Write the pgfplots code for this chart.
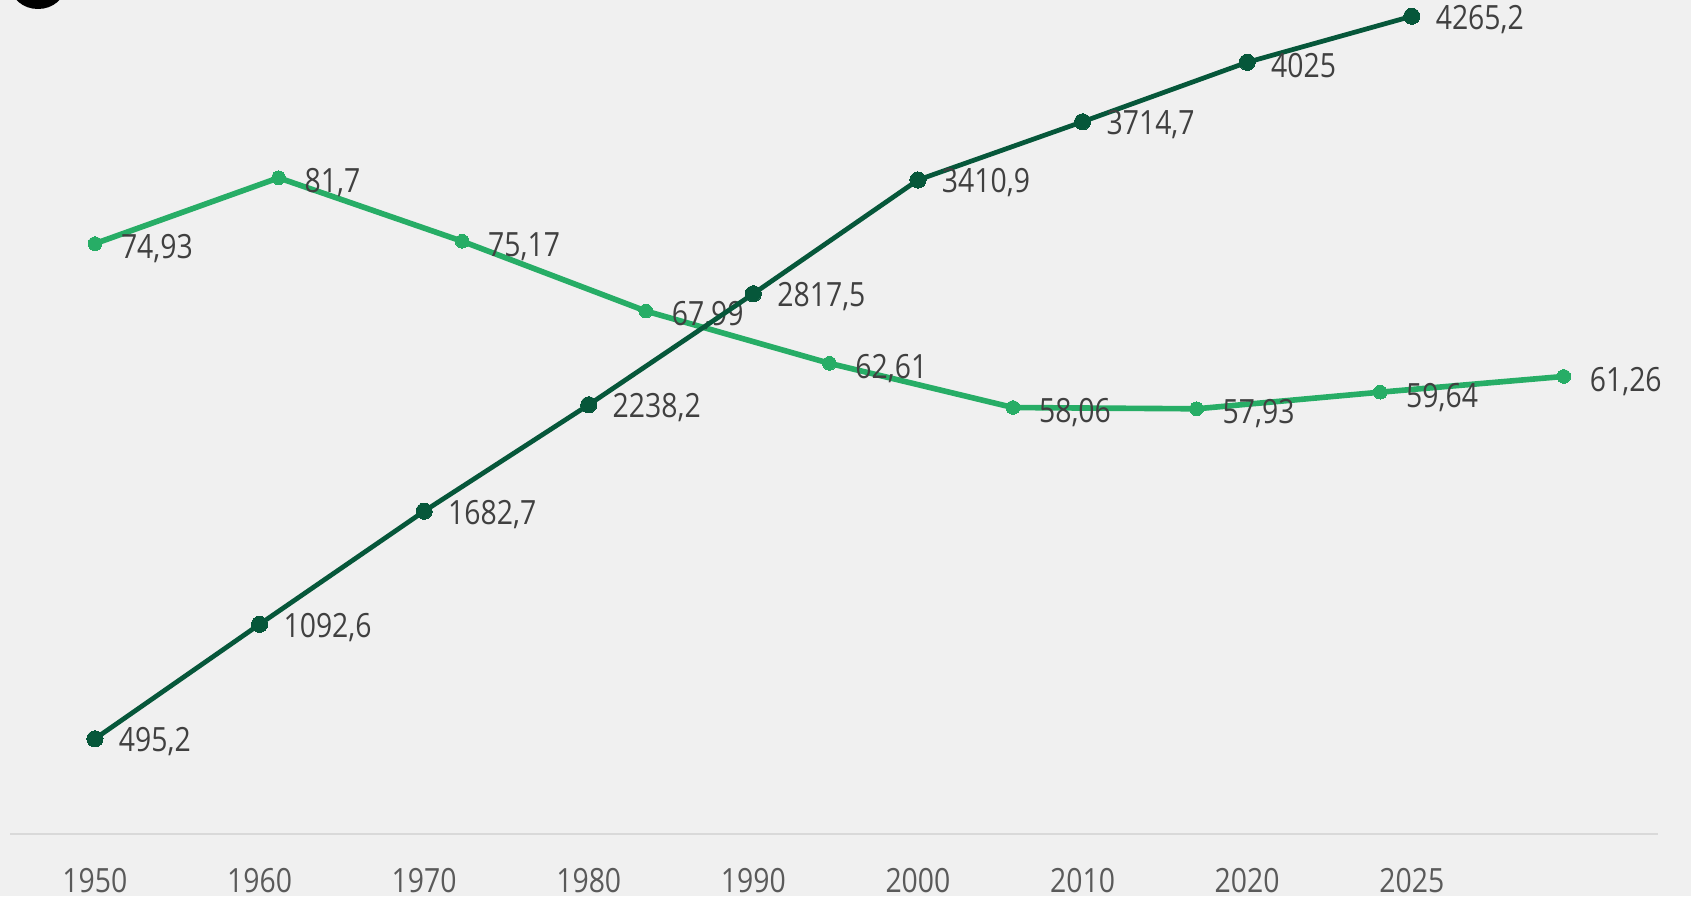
\documentclass[border=0pt]{standalone}
\usepackage{pgfplots}
\pgfplotsset{compat=1.18}
\usepackage{pgfplotstable}
\usepackage{fontspec}
\setmainfont{Open Sans}
\definecolor{bg}{HTML}{F0F0F0}
\definecolor{dkg}{HTML}{06573A}
\definecolor{ltg}{HTML}{27AD66}
\definecolor{labc}{HTML}{404040}
\definecolor{tickc}{HTML}{5A5A5A}
\definecolor{axl}{HTML}{D9D9D9}
\newcommand{\sq}[1]{\scalebox{0.85}[1]{#1}}

\pgfplotstableread{
x y lab
0 495.2 495,2
1 1092.6 1092,6
2 1682.7 1682,7
3 2238.2 2238,2
4 2817.5 2817,5
5 3410.9 3410,9
6 3714.7 3714,7
7 4025 4025
8 4265.2 4265,2
}\darkdata

\pgfplotstableread{
x y lab
0 74.93 74,93
1 81.7 81,7
2 75.17 75,17
3 67.99 67,99
4 62.61 62,61
5 58.06 58,06
6 57.93 57,93
7 59.64 59,64
8 61.26 61,26
}\lightdata

\pgfplotstableread{
x y lab
0 -242 1950
1 -242 1960
2 -242 1970
3 -242 1980
4 -242 1990
5 -242 2000
6 -242 2010
7 -242 2020
8 -242 2025
}\ticksdata

\begin{document}
\begin{tikzpicture}[x=0.1mm,y=0.1mm]
\fill[bg] (0,0) rectangle (1691,896);
\useasboundingbox (0,0) rectangle (1691,896);
\begin{scope}
\clip (0,0) rectangle (1691,896);
\fill[black] (38,910) ellipse (27 and 23);
\end{scope}
% light series axis
\begin{axis}[
  at={(1mm,0mm)}, anchor=south west, scale only axis,
  width=164.8mm, height=89.6mm,
  xmin=-0.463, xmax=8.513, ymin=7.79, ymax=100,
  axis lines=none, clip=false,
]
\addplot[ltg, line width=1.6pt, mark=*, mark size=1.95pt,
  mark options={fill=ltg, draw=ltg, line width=0pt},
  point meta=explicit symbolic,
  nodes near coords={\sq{\pgfplotspointmeta}},
  every node near coord/.style={anchor=west, inner sep=0pt, xshift=2.6mm, yshift=-0.5mm,
    font=\fontsize{9.5pt}{11pt}\selectfont, text=labc}
] table[x=x, y=y, meta=lab] {\lightdata};
\end{axis}
% dark series axis
\begin{axis}[
  at={(1mm,0mm)}, anchor=south west, scale only axis,
  width=164.8mm, height=89.6mm,
  xmin=-0.516, xmax=9.496, ymin=-325, ymax=4350,
  axis lines=none, clip=false,
]
\draw[axl, line width=0.6pt] (axis cs:-0.516,0) -- (axis cs:9.496,0);
\addplot[draw=none, mark=none,
  point meta=explicit symbolic,
  nodes near coords={\sq{\pgfplotspointmeta}},
  every node near coord/.style={anchor=center, inner sep=0pt,
    font=\fontsize{9.5pt}{11pt}\selectfont, text=tickc}
] table[x=x, y=y, meta=lab] {\ticksdata};
\addplot[dkg, line width=1.35pt, mark=*, mark size=2.3pt,
  mark options={fill=dkg, draw=dkg, line width=0pt},
  point meta=explicit symbolic,
  nodes near coords={\sq{\pgfplotspointmeta}},
  every node near coord/.style={anchor=west, inner sep=0pt, xshift=2.4mm, yshift=-0.3mm,
    font=\fontsize{9.5pt}{11pt}\selectfont, text=labc}
] table[x=x, y=y, meta=lab] {\darkdata};
\end{axis}
\end{tikzpicture}
\end{document}
